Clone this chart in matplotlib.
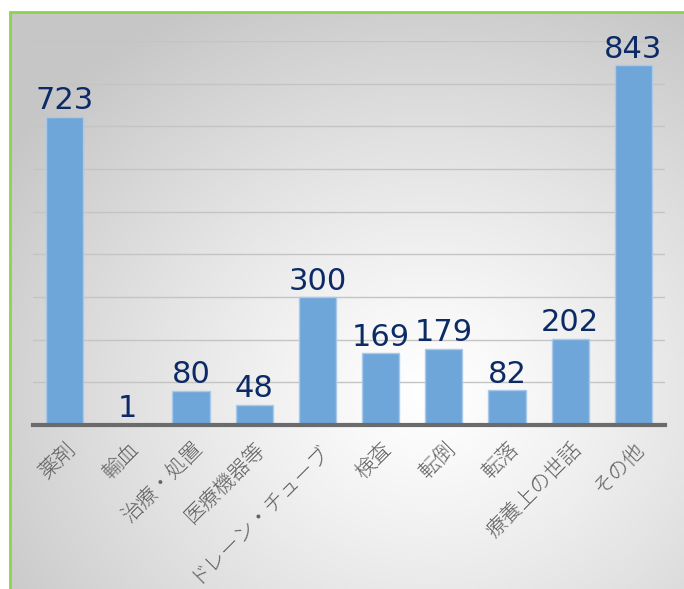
import matplotlib
matplotlib.use('Agg')
import matplotlib.pyplot as plt
import numpy as np
from matplotlib.patches import Rectangle

plt.rcParams['font.family'] = ['Noto Sans CJK JP', 'DejaVu Sans']

categories = ['薬剤', '輸血', '治療・処置', '医療機器等', 'ドレーン・チューブ',
              '検査', '転倒', '転落', '療養上の世話', 'その他']
counts = [723, 1, 80, 48, 300, 169, 179, 82, 202, 843]

W, H = 684, 589
fig = plt.figure(figsize=(W / 100, H / 100), dpi=100)

# radial gradient background inside the green frame
bg = fig.add_axes([10 / W, 0, 1 - 10 / W, 1 - 12 / H])
yy, xx = np.mgrid[0:300, 0:340]
cx, cy = 0.62 * 340, 0.66 * 300
r = np.sqrt(((xx - cx) / 340) ** 2 + ((yy - cy) / 300) ** 2)
r = np.clip(r / 0.75, 0, 1)
shade = 1.0 - 0.22 * r ** 1.2
bg.imshow(np.dstack([shade] * 3), aspect='auto', extent=[0, 1, 0, 1], origin='upper')
bg.set_axis_off()
fig.add_artist(Rectangle((10 / W, -0.1), 1.2, 1.1 - 12 / H,
                         transform=fig.transFigure, fill=False,
                         edgecolor='#92d050', linewidth=2, zorder=5))

ax = fig.add_axes([33 / W, 164 / H, (665 - 33) / W, (425 - 41) / H])
ax.patch.set_alpha(0)
x = np.arange(len(categories))
ax.bar(x, counts, width=0.59, color='#6fa6d9', edgecolor='#a9c9ea', linewidth=1, zorder=2)
ax.set_xlim(-0.5, len(categories) - 0.5)
ax.set_ylim(0, 900)
ax.set_yticks(np.arange(100, 901, 100))
ax.yaxis.grid(True, color='#c4c4c4', linewidth=1, zorder=1)
ax.tick_params(axis='y', left=False, labelleft=False)
ax.tick_params(axis='x', bottom=False, pad=6)
for s in ['top', 'right', 'left']:
    ax.spines[s].set_visible(False)
ax.spines['bottom'].set_color('#6b6b6b')
ax.spines['bottom'].set_linewidth(3)
ax.spines['bottom'].set_zorder(3)

ax.set_xticks(x)
ax.set_xticklabels(categories, rotation=45, ha='right', va='top',
                   rotation_mode='anchor', fontsize=15, color='#606060',
                   fontweight='light')

for xi, v in zip(x, counts):
    ax.annotate(str(v), (xi, v), xytext=(0, 1), textcoords='offset points',
                ha='center', va='bottom', fontsize=22, color='#0c2a66',
                family=['DejaVu Sans'], zorder=4)

fig.savefig('out.png', dpi=100)
